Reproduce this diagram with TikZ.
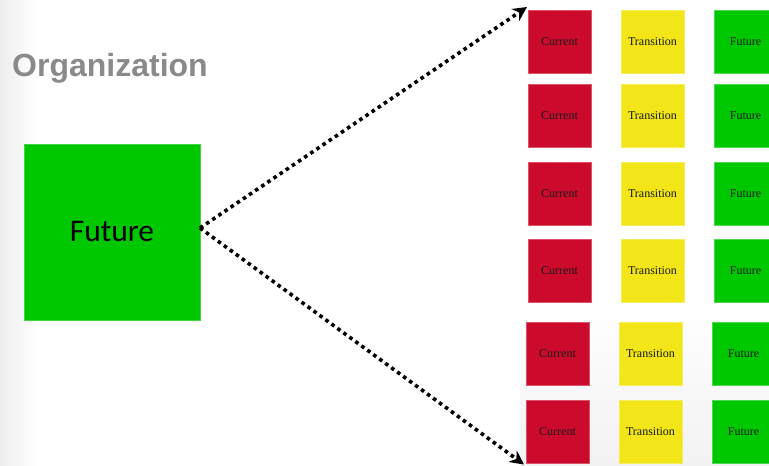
\documentclass[tikz,border=0pt]{standalone}
\usepackage{fontspec}
\setmainfont{Liberation Serif}
\newfontfamily\carlito{Carlito}
\newfontfamily\libsans{Liberation Sans}
\usetikzlibrary{arrows.meta}
\definecolor{cred}{HTML}{CC0A2B}
\definecolor{cyel}{HTML}{F2E619}
\definecolor{cgrn}{HTML}{00C800}
\definecolor{titlegray}{HTML}{8A8A8A}
\tikzset{
  sbox/.style={minimum width=63pt, minimum height=63pt, inner sep=0pt, outer sep=0pt,
    font=\fontsize{12}{13}\selectfont, text=black!90},
  cur/.style={sbox, fill=cred, draw=cred!70!white, line width=0.6pt},
  tra/.style={sbox, fill=cyel, draw=cyel!70!white, line width=0.6pt},
  fut/.style={sbox, fill=cgrn, draw=cgrn!70!white, line width=0.6pt},
  arr/.style={line width=3.6pt, dash pattern=on 3.6pt off 3.8pt, -{Stealth[length=14pt,width=14pt]}},
}
\begin{document}
\begin{tikzpicture}[x=1pt,y=-1pt]
\useasboundingbox (0,0) rectangle (769,466);
\clip (0,0) rectangle (769,466);
\fill[white] (0,0) rectangle (769,466);
\shade[left color=black!7, right color=white] (0,0) rectangle (35,466);
\shade[top color=white, bottom color=black!5] (520,300) rectangle (769,466);
\node[anchor=base west, inner sep=0pt, text=titlegray, font=\libsans\bfseries\fontsize{32}{34}\selectfont] (title) at (12,76) {Organization};
\node[fill=cgrn, draw=cgrn!75!white, line width=0.6pt, minimum width=176pt, minimum height=176pt, inner sep=0pt, outer sep=0pt, font=\carlito\fontsize{31.5}{34}\selectfont] (big) at (112,232) {Future};
% rows 1-4
\node[cur] (c1) at (559.5,41.5) {Current};
\node[tra] (t1) at (652.5,41.5) {Transition};
\node[fut] (f1) at (745.5,41.5) {Future};
\node[cur] (c2) at (559.5,115.5) {Current};
\node[tra] (t2) at (652.5,115.5) {Transition};
\node[fut] (f2) at (745.5,115.5) {Future};
\node[cur] (c3) at (559.5,194) {Current};
\node[tra] (t3) at (652.5,194) {Transition};
\node[fut] (f3) at (745.5,194) {Future};
\node[cur] (c4) at (559.5,270.5) {Current};
\node[tra] (t4) at (652.5,270.5) {Transition};
\node[fut] (f4) at (745.5,270.5) {Future};
% rows 5-6
\node[cur] (c5) at (557.5,353.5) {Current};
\node[tra] (t5) at (650.5,353.5) {Transition};
\node[fut] (f5) at (743.5,353.5) {Future};
\node[cur] (c6) at (557.5,432) {Current};
\node[tra] (t6) at (650.5,432) {Transition};
\node[fut] (f6) at (743.5,432) {Future};
% arrows
\draw[arr] ([yshift=4pt]big.east) -- ([xshift=-1pt,yshift=3pt]c1.north west);
\draw[arr] ([yshift=4pt]big.east) -- ([xshift=-2pt,yshift=-1pt]c6.south west);
\end{tikzpicture}
\end{document}
